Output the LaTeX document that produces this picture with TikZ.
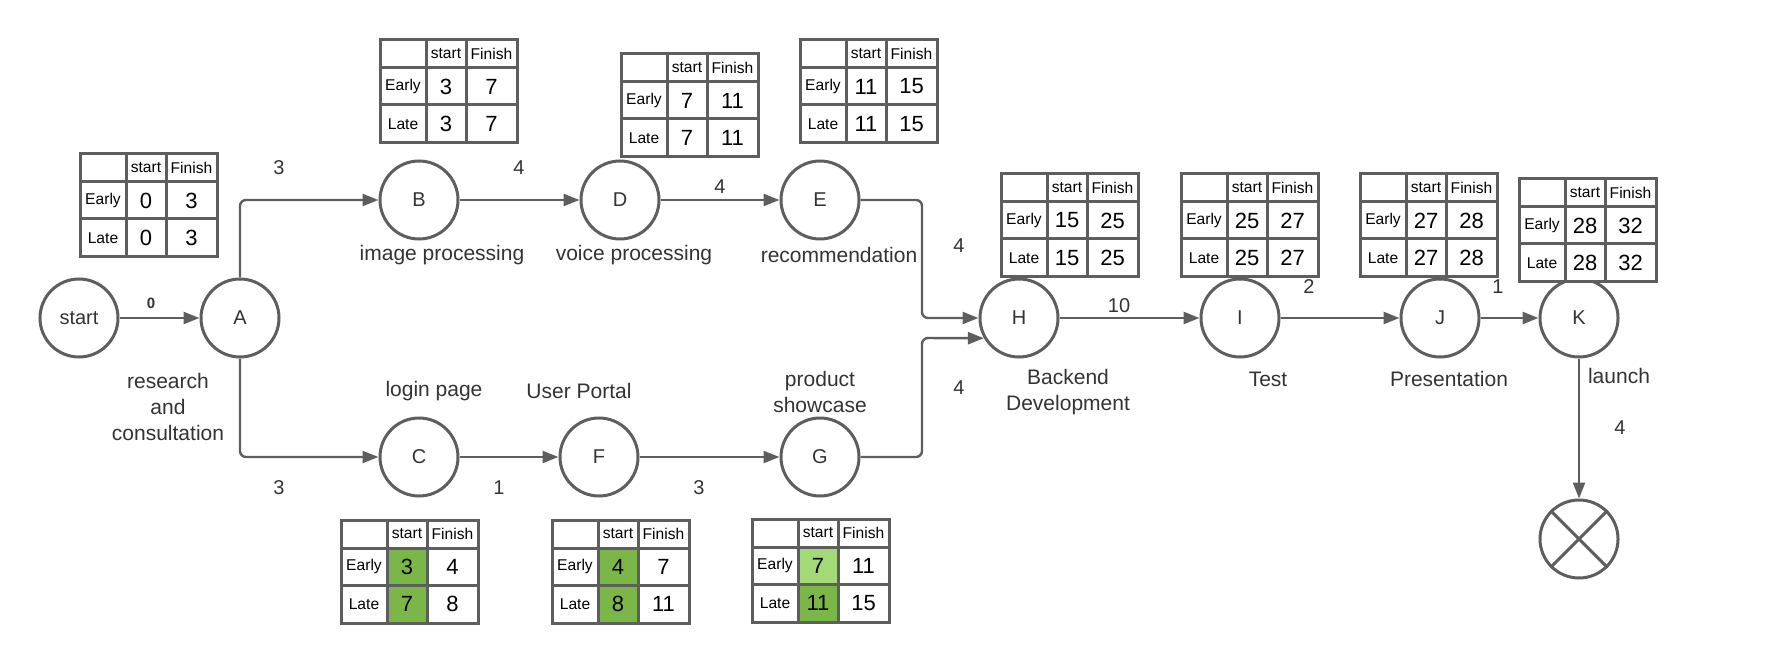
\documentclass[tikz,border=0pt]{standalone}
\usepackage{fontspec}
\setmainfont{Liberation Sans}
\usepackage{tikz}
\usetikzlibrary{arrows.meta}

\definecolor{linegray}{HTML}{5E5E5E}
\definecolor{textgray}{HTML}{333333}
\definecolor{critgreen}{HTML}{7AB648}
\definecolor{lightgreen}{HTML}{A3D977}

\tikzset{
  event/.style={circle,draw=linegray,line width=1.5pt,minimum size=39pt,inner sep=0pt,text=textgray,font=\fontsize{10}{12}\selectfont},
  flow/.style={draw=linegray,line width=1.2pt,-{Triangle[length=8pt,width=6pt]}},
  weight/.style={text=textgray,font=\fontsize{10}{12}\selectfont},
  task/.style={text=textgray,align=center,font=\fontsize{10.5}{13.2}\selectfont},
  tbl/.style={draw=linegray,line width=1.5pt},
  hdr/.style={inner sep=0pt,font=\fontsize{7.8}{9}\selectfont},
  num/.style={inner sep=0pt,font=\fontsize{11}{12}\selectfont}
}

% early/late table: name, x, y, ES, EF, LS, LF, fill of ES, fill of LS
\newcommand\esltable[9]{%
  \begin{scope}[shift={(#2,#3)}]
    \fill[#8] (46,28) rectangle (86,65);
    \fill[#9] (46,65) rectangle (86,103);
    \draw[tbl] (0,0) rectangle (137,103) (46,0) -- (46,103) (86,0) -- (86,103)
      (0,28) -- (137,28) (0,65) -- (137,65);
    \node[hdr] (#1-s) at (66,14) {start};
    \node[hdr] (#1-f) at (111.5,14) {Finish};
    \node[hdr] (#1-e) at (23,46.5) {Early};
    \node[hdr] (#1-l) at (23,84) {Late};
    \node[num] (#1-es) at (66,46.5) {#4};
    \node[num] (#1-ef) at (111.5,46.5) {#5};
    \node[num] (#1-ls) at (66,84) {#6};
    \node[num] (#1-lf) at (111.5,84) {#7};
  \end{scope}}

\begin{document}
\begin{tikzpicture}[x=0.5pt,y=-0.5pt]
  \useasboundingbox (0,0) rectangle (1780,662);

  %events
  \node[event] (start) at (79,318) {start};
  \node[event] (A) at (240,318) {A};
  \node[event] (B) at (419,200) {B};
  \node[event] (D) at (620,200) {D};
  \node[event] (E) at (820,200) {E};
  \node[event] (C) at (419,457) {C};
  \node[event] (F) at (599,457) {F};
  \node[event] (G) at (820,457) {G};
  \node[event] (H) at (1019,318) {H};
  \node[event] (I) at (1240,318) {I};
  \node[event] (J) at (1440,318) {J};
  \node[event] (K) at (1579,318) {K};
  \node[event] (finish) at (1579,539) {};
  \draw[linegray,line width=1.5pt] (finish.45) -- (finish.225) (finish.135) -- (finish.-45);

  %tables
  \esltable{tA}{80}{154}{0}{3}{0}{3}{white}{white}
  \esltable{tB}{380}{40}{3}{7}{3}{7}{white}{white}
  \esltable{tD}{621}{54}{7}{11}{7}{11}{white}{white}
  \esltable{tE}{800}{40}{11}{15}{11}{15}{white}{white}
  \esltable{tH}{1001}{174}{15}{25}{15}{25}{white}{white}
  \esltable{tI}{1181}{174}{25}{27}{25}{27}{white}{white}
  \esltable{tJ}{1360}{174}{27}{28}{27}{28}{white}{white}
  \esltable{tK}{1519}{179}{28}{32}{28}{32}{white}{white}
  \esltable{tC}{341}{520}{3}{4}{7}{8}{critgreen}{critgreen}
  \esltable{tF}{552}{520}{4}{7}{8}{11}{critgreen}{critgreen}
  \esltable{tG}{752}{519}{7}{11}{11}{15}{lightgreen}{critgreen}

  %connectors
  \coordinate (bendE) at (922,318);
  \coordinate (bendG) at (922,338);
  \draw[flow] (start) -- (A);
  \draw[flow,rounded corners=3pt] (A.north) |- (B);
  \draw[flow,rounded corners=3pt] (A.south) |- (C);
  \draw[flow] (B) -- (D);
  \draw[flow] (D) -- (E);
  \draw[flow] (C) -- (F);
  \draw[flow] (F) -- (G);
  \draw[flow,rounded corners=3pt] (E) -| (bendE) -- (H);
  \draw[flow,rounded corners=3pt] (G) -| (bendG) -- (H.210);
  \draw[flow] (H) -- (I);
  \draw[flow] (I) -- (J);
  \draw[flow] (J) -- (K);
  \draw[flow] (K) -- (finish);

  %durations
  \node[weight,font=\fontsize{7.5}{8}\bfseries] (wSA) at (151,303) {0};
  \node[weight] (wAB) at (279,168) {3};
  \node[weight] (wAC) at (279,488) {3};
  \node[weight] (wBD) at (519,168) {4};
  \node[weight] (wDE) at (720,187) {4};
  \node[weight] (wEH) at (959,246) {4};
  \node[weight] (wGH) at (959,388) {4};
  \node[weight] (wCF) at (499,488) {1};
  \node[weight] (wFG) at (699,488) {3};
  \node[weight] (wHI) at (1119,306) {10};
  \node[weight] (wIJ) at (1309,287) {2};
  \node[weight] (wJK) at (1498,287) {1};
  \node[weight] (wKX) at (1620,428) {4};

  %activities
  \node[task] (lA) at (168,407) {research\\and\\consultation};
  \node[task] (lB) at (442,255) {image processing};
  \node[task] (lD) at (634,255) {voice processing};
  \node[task] (lE) at (839,255) {recommendation};
  \node[task] (lC) at (434,391) {login page};
  \node[task] (lF) at (579,391) {User Portal};
  \node[task] (lG) at (820,392) {product\\showcase};
  \node[task] (lH) at (1068,392) {Backend\\Development};
  \node[task] (lI) at (1268,379) {Test};
  \node[task] (lJ) at (1449,379) {Presentation};
  \node[task] (lK) at (1619,376) {launch};
\end{tikzpicture}
\end{document}
